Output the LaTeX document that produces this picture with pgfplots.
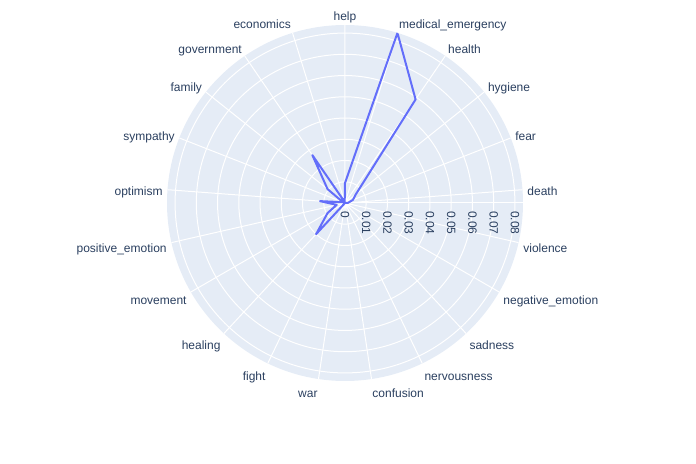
\documentclass[border=0pt]{standalone}
\usepackage{pgfplots}
\pgfplotsset{compat=1.18}
\usepgfplotslibrary{polar}
\usepackage{fontspec}
\setmainfont{Liberation Sans}
\definecolor{ptext}{HTML}{2A3F5F}
\definecolor{pbg}{HTML}{E5ECF6}
\definecolor{trace}{HTML}{636EFA}

\begin{document}
\begin{tikzpicture}
\begin{polaraxis}[
  width=267pt, height=267pt, scale only axis,
  ymin=0, ymax=0.0838,
  axis background/.style={fill=pbg},
  axis line style={draw=none},
  xtick={4.286,21.429,38.571,55.714,72.857,90,107.143,124.286,141.429,158.571,175.714,
         192.857,210,227.143,244.286,261.429,278.571,295.714,312.857,330,347.143},
  xticklabels={death,fear,hygiene,health,medical\_emergency,help,economics,government,family,sympathy,optimism,
         positive\_emotion,movement,healing,fight,war,confusion,nervousness,sadness,negative\_emotion,violence},
  xticklabel style={
    /utils/exec={\pgfmathsetmacro\tc{cos(\tick)}\pgfmathsetmacro\ts{sin(\tick)}%
      \ifdim\tc pt>0.1pt \def\tanch{west}\else\ifdim\tc pt<-0.1pt \def\tanch{east}\else\def\tanch{center}\fi\fi},
    anchor=\tanch, xshift=\tc*3.5pt, yshift=\ts*8.75pt-3pt,
    inner sep=0pt, text height=6.8pt, text depth=2.2pt,
    font=\fontsize{9pt}{10pt}\selectfont, text=ptext},
  ytick={0,0.01,0.02,0.03,0.04,0.05,0.06,0.07,0.08},
  scaled y ticks=false,
  yticklabel={\rotatebox{-90}{\pgfmathprintnumber[fixed,precision=2,assume math mode=true]{\tick}}},
  yticklabel style={anchor=north, inner sep=0pt, yshift=-6pt, font=\fontsize{9pt}{10pt}\selectfont, text=ptext},
  major tick length=0pt,
  xmajorgrids, ymajorgrids,
  grid style={white, line width=0.75pt},
]
% radial axis line
\addplot[white, line width=0.75pt, forget plot] coordinates {(0,0) (0,0.0838)};
% trace, clockwise from help
\addplot[trace, line width=1.5pt, line join=round, no markers] coordinates {
  (90,0.0094)       % help
  (72.857,0.0838)   % medical_emergency
  (55.714,0.059)    % health
  (38.571,0.0065)   % hygiene
  (21.429,0.004)    % fear
  (4.286,0.0015)    % death
  (-12.857,0)       % violence
  (-30,0)           % negative_emotion
  (-47.143,0)       % sadness
  (-64.286,0)       % nervousness
  (-81.429,0)       % confusion
  (-98.571,0)       % war
  (-115.714,0)      % fight
  (-132.857,0.020)  % healing
  (-150,0.0095)     % movement
  (-167.143,0.004)  % positive_emotion
  (-184.286,0.0118) % optimism
  (-201.429,0.001)  % sympathy
  (-218.571,0.0105) % family
  (-235.714,0.0273) % government
  (-252.857,0.0005) % economics
  (-270,0.0094)     % help
};
\coordinate (c) at (axis cs:0,0);
\end{polaraxis}
\path (c) ++(-258.75pt,152.25pt) rectangle ++(522pt,-348pt);
\end{tikzpicture}
\end{document}
